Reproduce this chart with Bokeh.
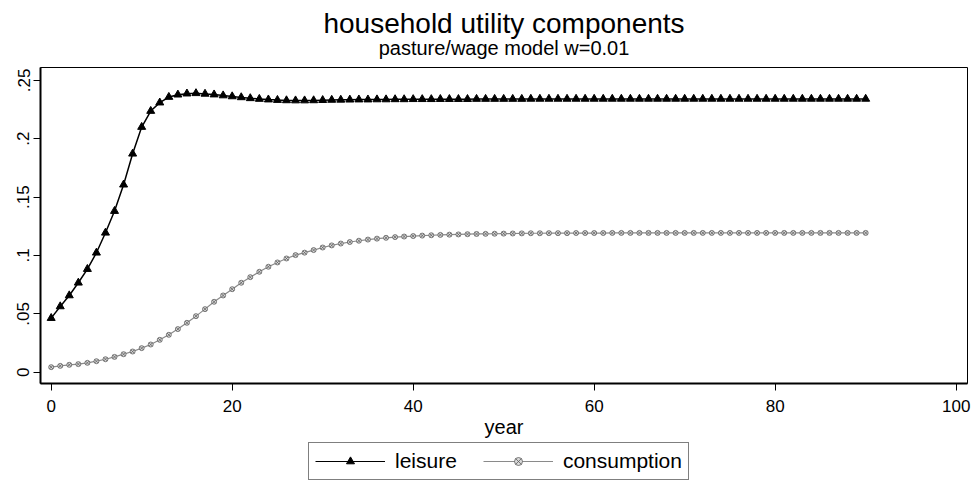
import numpy as np
from bokeh.plotting import figure
from bokeh.models import Label, Legend, LegendItem, FixedTicker, Range1d, ColumnDataSource
from bokeh.layouts import column
from bokeh.embed import file_html
from bokeh.resources import INLINE

year = list(range(0, 91))

leisure = [
    0.0463, 0.0563, 0.0657, 0.0766, 0.0883, 0.1023, 0.1194, 0.1380, 0.1606, 0.1871,
    0.2100, 0.2237, 0.2309, 0.2357, 0.2377, 0.2386, 0.2389, 0.2384, 0.2378, 0.2370,
    0.2362, 0.2354, 0.2346, 0.2340, 0.2335, 0.2331, 0.2328, 0.2327, 0.2327, 0.2328,
    0.2330, 0.2332, 0.2333, 0.2334, 0.2335, 0.2335, 0.2336, 0.2336, 0.2337, 0.2337,
    0.2338, 0.2338, 0.2338, 0.2339, 0.2339, 0.2339, 0.2339, 0.2340, 0.2340, 0.2340,
    0.2340, 0.2340, 0.2340, 0.2341, 0.2341, 0.2341, 0.2341, 0.2341, 0.2341, 0.2341,
    0.2341, 0.2341, 0.2341, 0.2341, 0.2341, 0.2341, 0.2341, 0.2341, 0.2341, 0.2341,
    0.2341, 0.2341, 0.2341, 0.2341, 0.2341, 0.2341, 0.2341, 0.2341, 0.2341, 0.2341,
    0.2341, 0.2341, 0.2341, 0.2341, 0.2341, 0.2341, 0.2341, 0.2341, 0.2341, 0.2341,
    0.2341,
]

consumption = [
    0.0043, 0.0054, 0.0063, 0.0069, 0.0080, 0.0094, 0.0111, 0.0131, 0.0154, 0.0177,
    0.0206, 0.0237, 0.0277, 0.0320, 0.0369, 0.0423, 0.0480, 0.0540, 0.0603, 0.0657,
    0.0711, 0.0766, 0.0814, 0.0860, 0.0903, 0.0940, 0.0974, 0.1003, 0.1024, 0.1046,
    0.1068, 0.1086, 0.1102, 0.1115, 0.1126, 0.1136, 0.1144, 0.1151, 0.1157, 0.1162,
    0.1166, 0.1170, 0.1173, 0.1176, 0.1178, 0.1180, 0.1182, 0.1184, 0.1185, 0.1186,
    0.1187, 0.1188, 0.1189, 0.1190, 0.1190, 0.1191, 0.1191, 0.1191, 0.1192, 0.1192,
    0.1192, 0.1192, 0.1193, 0.1193, 0.1193, 0.1193, 0.1193, 0.1193, 0.1193, 0.1193,
    0.1193, 0.1193, 0.1193, 0.1193, 0.1193, 0.1193, 0.1193, 0.1193, 0.1193, 0.1193,
    0.1193, 0.1193, 0.1193, 0.1193, 0.1193, 0.1193, 0.1193, 0.1193, 0.1193, 0.1193,
    0.1193,
]

x_ticks = [0, 20, 40, 60, 80, 100]
y_ticks = [0, 0.05, 0.1, 0.15, 0.2, 0.25]
y_tick_labels = ["0", ".05", ".1", ".15", ".2", ".25"]

title_text = "household utility components"
subtitle_text = "pasture/wage model w=0.01"
x_label = "year"
series_names = ["leisure", "consumption"]

FONT = "Liberation Sans"
GREY = "#8a8a8a"
MARK_GREY = "#5e5e5e"


def bare(fig):
    fig.outline_line_color = None
    fig.grid.visible = False
    fig.background_fill_color = "white"
    fig.border_fill_color = "white"


# ---------------- header (title + subtitle) ----------------
hd = figure(width=975, height=66, output_backend="svg", toolbar_location=None,
            x_axis_type=None, y_axis_type=None,
            x_range=Range1d(0, 1), y_range=Range1d(66, 0),
            min_border_left=40, min_border_right=8, min_border_top=0,
            min_border_bottom=0)
bare(hd)
hd.add_layout(Label(x=0.5, y=23, text=title_text, text_align="center",
                    text_baseline="middle", text_font=FONT,
                    text_font_size="28px", text_color="black"))
hd.add_layout(Label(x=0.5, y=47, text=subtitle_text, text_align="center",
                    text_baseline="middle", text_font=FONT,
                    text_font_size="20px", text_color="black"))

# ---------------- main chart ----------------
p = figure(width=975, height=374, output_backend="svg", toolbar_location=None,
           x_range=Range1d(-1.18, 101.25), y_range=Range1d(-0.0097, 0.261),
           min_border_left=40, min_border_right=8, min_border_top=1,
           min_border_bottom=57)
p.background_fill_color = "white"
p.border_fill_color = "white"
p.outline_line_color = "black"
p.outline_line_width = 1
p.grid.visible = False

xa = p.xaxis[0]
xa.ticker = FixedTicker(ticks=x_ticks)
xa.major_tick_out = 7
xa.major_tick_in = 0
xa.minor_tick_out = 0
xa.minor_tick_in = 0
xa.axis_line_color = "black"
xa.axis_line_width = 2
xa.major_label_text_font = FONT
xa.major_label_text_font_size = "17px"
xa.major_label_text_color = "black"
xa.major_label_standoff = 9
xa.axis_label = x_label
xa.axis_label_text_font = FONT
xa.axis_label_text_font_size = "20px"
xa.axis_label_text_font_style = "normal"
xa.axis_label_text_color = "black"
xa.axis_label_standoff = 1

ya = p.yaxis[0]
ya.ticker = FixedTicker(ticks=y_ticks)
ya.major_label_overrides = {t: s for t, s in zip(y_ticks, y_tick_labels)}
ya.major_label_orientation = "vertical"
ya.major_tick_out = 7
ya.major_tick_in = 0
ya.minor_tick_out = 0
ya.minor_tick_in = 0
ya.axis_line_color = "black"
ya.axis_line_width = 2
ya.major_label_text_font = FONT
ya.major_label_text_font_size = "17px"
ya.major_label_text_color = "black"
ya.major_label_standoff = 4

p.line(year, leisure, line_color="black", line_width=1.5)
p.scatter(year, leisure, marker="triangle", size=8, fill_color="black",
          line_color="black")
p.line(year, consumption, line_color=GREY, line_width=1.2)
p.scatter(year, consumption, marker="circle_x", size=5, fill_color="#d8d8d8",
          line_color=MARK_GREY, line_width=0.8)

# ---------------- legend strip ----------------
lg = figure(width=975, height=43, output_backend="svg", toolbar_location=None,
            x_axis_type=None, y_axis_type=None,
            x_range=Range1d(0, 1), y_range=Range1d(0, 1),
            min_border_left=40, min_border_right=8, min_border_top=0,
            min_border_bottom=0)
bare(lg)

nosrc = ColumnDataSource(data=dict(x=np.array([np.nan]), y=np.array([np.nan])))
r1 = lg.line("x", "y", source=nosrc, line_color="black", line_width=1.1)
s1 = lg.scatter("x", "y", source=nosrc, marker="triangle", size=7,
                fill_color="black", line_color="black")
r2 = lg.line("x", "y", source=nosrc, line_color=GREY, line_width=1.1)
s2 = lg.scatter("x", "y", source=nosrc, marker="circle_x", size=5,
                fill_color="#d8d8d8", line_color=MARK_GREY, line_width=0.8)

legend = Legend(items=[LegendItem(label=series_names[0], renderers=[r1, s1]),
                       LegendItem(label=series_names[1], renderers=[r2, s2])],
                orientation="horizontal", location=(268, 3),
                border_line_color="black", border_line_width=1,
                label_text_font=FONT, label_text_font_size="21px",
                label_text_color="black",
                glyph_width=70, glyph_height=20, label_height=20,
                label_standoff=10, padding=6, spacing=26, margin=0)
lg.add_layout(legend, "center")

open("out.html", "w").write(file_html(column(hd, p, lg, spacing=0), INLINE))
